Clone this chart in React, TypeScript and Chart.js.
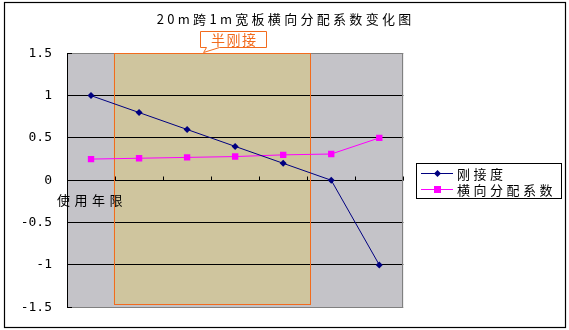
import React, { useEffect, useRef } from 'react';
import { Chart, registerables } from 'chart.js';

Chart.register(...registerables);

// ---- data ----
const categories = ['1', '2', '3', '4', '5', '6', '7'];
const rigidity = [1, 0.8, 0.6, 0.4, 0.2, 0, -1];
const distribution = [0.25, 0.26, 0.27, 0.28, 0.3, 0.31, 0.5];
const seriesNames = ['刚接度', '横向分配系数'];
const yTicks = [-1.5, -1, -0.5, 0, 0.5, 1, 1.5];
const titleText = '20m跨1m宽板横向分配系数变化图';
const xAxisTitle = '使用年限';
const calloutText = '半刚接';
// half-rigid region in category-index units and y value of its bottom
const halfRigidRange = [0.47, 4.56];
const halfRigidBottom = -1.46;

const NAVY = '#000080';
const MAGENTA = '#FF00FF';
const ORANGE = '#F26B1D';
const CJK = '"Noto Sans CJK SC", "Noto Sans", sans-serif';

function spacedText(ctx: CanvasRenderingContext2D, text: string, x: number, y: number, spacing: number, align: 'left' | 'center') {
  const anyCtx = ctx as any;
  anyCtx.letterSpacing = spacing + 'px';
  ctx.textAlign = 'left';
  const w = ctx.measureText(text).width - spacing;
  const sx = align === 'center' ? x - w / 2 : x;
  ctx.fillText(text, sx, y);
  anyCtx.letterSpacing = '0px';
}

const decor = {
  id: 'decor',
  beforeDraw(chart: any) {
    const { ctx, chartArea: a, scales } = chart;
    const xs = scales.x, ys = scales.y;
    ctx.save();
    ctx.fillStyle = '#C4C3C8';
    ctx.fillRect(a.left, a.top, a.right - a.left, a.bottom - a.top);
    const x0 = xs.getPixelForValue(halfRigidRange[0]);
    const x1 = xs.getPixelForValue(halfRigidRange[1]);
    const yb = ys.getPixelForValue(halfRigidBottom);
    ctx.fillStyle = '#CFC59E';
    ctx.fillRect(x0, a.top, x1 - x0, yb - a.top);
    ctx.restore();
  },
  beforeDatasetsDraw(chart: any) {
    const { ctx, chartArea: a, scales } = chart;
    const xs = scales.x, ys = scales.y;
    ctx.save();
    // right border of plot
    ctx.strokeStyle = '#808080';
    ctx.lineWidth = 1;
    ctx.beginPath();
    const rx = Math.round(a.right) - 0.5;
    ctx.moveTo(rx, a.top);
    ctx.lineTo(rx, a.bottom);
    ctx.stroke();
    // inner y tick marks at ends
    ctx.strokeStyle = '#000';
    ctx.beginPath();
    [yTicks[0], yTicks[yTicks.length - 1]].forEach((v) => {
      const py = Math.round(ys.getPixelForValue(v)) + 0.5;
      ctx.moveTo(a.left, py);
      ctx.lineTo(a.left + 5, py);
    });
    ctx.stroke();
    // x tick marks on zero line (upwards, between categories)
    const zy = Math.round(ys.getPixelForValue(0)) + 0.5;
    ctx.beginPath();
    for (let i = 1; i <= categories.length; i++) {
      const px = Math.round(xs.getPixelForValue(i - 0.5)) + 0.5;
      ctx.moveTo(px, zy);
      ctx.lineTo(px, zy - 4);
    }
    ctx.stroke();
    // orange border of half-rigid region
    const x0 = Math.round(xs.getPixelForValue(halfRigidRange[0])) + 0.5;
    const x1 = Math.round(xs.getPixelForValue(halfRigidRange[1])) + 0.5;
    const yb = Math.round(ys.getPixelForValue(halfRigidBottom)) + 0.5;
    const yt = Math.round(a.top) + 0.5;
    ctx.strokeStyle = ORANGE;
    ctx.lineWidth = 1;
    ctx.strokeRect(x0, yt, x1 - x0, yb - yt);
    ctx.restore();
  },
  afterDraw(chart: any) {
    const { ctx, chartArea: a, scales } = chart;
    const xs = scales.x;
    ctx.save();
    ctx.textBaseline = 'middle';
    // title
    ctx.fillStyle = '#000';
    ctx.font = `13px ${CJK}`;
    spacedText(ctx, titleText, 284, 19, 3.3, 'center');
    // x axis title
    ctx.font = `13px ${CJK}`;
    spacedText(ctx, xAxisTitle, 57, 200, 4.5, 'left');
    // callout
    const bx = 200.5, by = 31.5, bw = 66, bh = 16;
    const tipX = xs.getPixelForValue(halfRigidRange[0]) + 90;
    ctx.fillStyle = '#fff';
    ctx.strokeStyle = ORANGE;
    ctx.lineWidth = 1;
    ctx.beginPath();
    ctx.moveTo(bx, by);
    ctx.lineTo(bx + bw, by);
    ctx.lineTo(bx + bw, by + bh);
    ctx.lineTo(bx + 19, by + bh);
    ctx.lineTo(tipX, Math.round(a.top) - 0.5);
    ctx.lineTo(bx + 6, by + bh);
    ctx.lineTo(bx, by + bh);
    ctx.closePath();
    ctx.fill();
    ctx.stroke();
    ctx.fillStyle = ORANGE;
    ctx.font = `14px ${CJK}`;
    spacedText(ctx, calloutText, bx + bw / 2, by + bh / 2 + 0.5, 1.5, 'center');
    // legend
    const lx = 416.5, ly = 163.5, lw = 145, lh = 35;
    ctx.fillStyle = '#fff';
    ctx.fillRect(lx, ly, lw, lh);
    ctx.strokeStyle = '#000';
    ctx.strokeRect(lx, ly, lw, lh);
    const rows = [173.5, 189.5];
    chart.data.datasets.forEach((ds: any, i: number) => {
      const yy = rows[i];
      ctx.strokeStyle = ds.borderColor;
      ctx.lineWidth = 1;
      ctx.beginPath();
      ctx.moveTo(421, yy);
      ctx.lineTo(453, yy);
      ctx.stroke();
      ctx.fillStyle = ds.borderColor;
      if (ds.pointStyle === 'rect') {
        ctx.fillRect(434, yy - 3.5, 7, 7);
      } else {
        ctx.beginPath();
        ctx.moveTo(437.5, yy - 3.5);
        ctx.lineTo(441, yy);
        ctx.lineTo(437.5, yy + 3.5);
        ctx.lineTo(434, yy);
        ctx.closePath();
        ctx.fill();
      }
      ctx.fillStyle = '#000';
      ctx.font = `13px ${CJK}`;
      spacedText(ctx, ds.label, 457, yy + 0.5, 3.5, 'left');
    });
    // outer border
    ctx.strokeStyle = '#000';
    ctx.lineWidth = 1.2;
    ctx.strokeRect(4.5, 2.5, 561, 325);
    ctx.restore();
  },
};

export default function App() {
  const ref = useRef<HTMLCanvasElement>(null);
  useEffect(() => {
    if (!ref.current) return;
    const chart = new Chart(ref.current, {
      type: 'line',
      data: {
        labels: categories,
        datasets: [
          {
            label: seriesNames[0],
            data: rigidity,
            borderColor: NAVY,
            backgroundColor: NAVY,
            borderWidth: 1,
            pointStyle: 'rectRot',
            pointRadius: 3.5,
            pointBorderWidth: 0,
          },
          {
            label: seriesNames[1],
            data: distribution,
            borderColor: MAGENTA,
            backgroundColor: MAGENTA,
            borderWidth: 1,
            pointStyle: 'rect',
            pointRadius: 4.5,
            pointBorderWidth: 0,
          },
        ],
      },
      options: {
        animation: false,
        responsive: false,
        devicePixelRatio: 1,
        layout: { padding: { left: 0, top: 53.3, right: 165.7, bottom: 21.7 } },
        plugins: {
          legend: { display: false },
          title: { display: false },
          tooltip: { enabled: false },
        },
        scales: {
          x: {
            type: 'category',
            offset: true,
            position: { y: 0 } as any,
            ticks: { display: false },
            grid: { display: false },
            border: { display: false },
          },
          y: {
            min: -1.5,
            max: 1.5,
            afterBuildTicks: (s: any) => {
              s.ticks = yTicks.map((v) => ({ value: v }));
            },
            afterFit: (s: any) => {
              s.width = 67;
            },
            ticks: {
              padding: 15,
              color: '#000',
              font: { family: '"DejaVu Sans Mono", monospace', size: 13 },
              callback: (v: any) => String(v),
            },
            grid: {
              drawTicks: false,
              lineWidth: 1,
              color: (c: any) => (Math.abs(c.tick?.value) === 1.5 ? '#808080' : '#000'),
            },
            border: { display: true, color: '#000', width: 1 },
          },
        },
      },
      plugins: [decor],
    });
    return () => chart.destroy();
  }, []);
  return (
    <div style={{ position: 'absolute', left: 0, top: 0, width: 569, height: 330, background: '#fff' }}>
      <canvas ref={ref} width={569} height={330} style={{ display: 'block' }} />
    </div>
  );
}
